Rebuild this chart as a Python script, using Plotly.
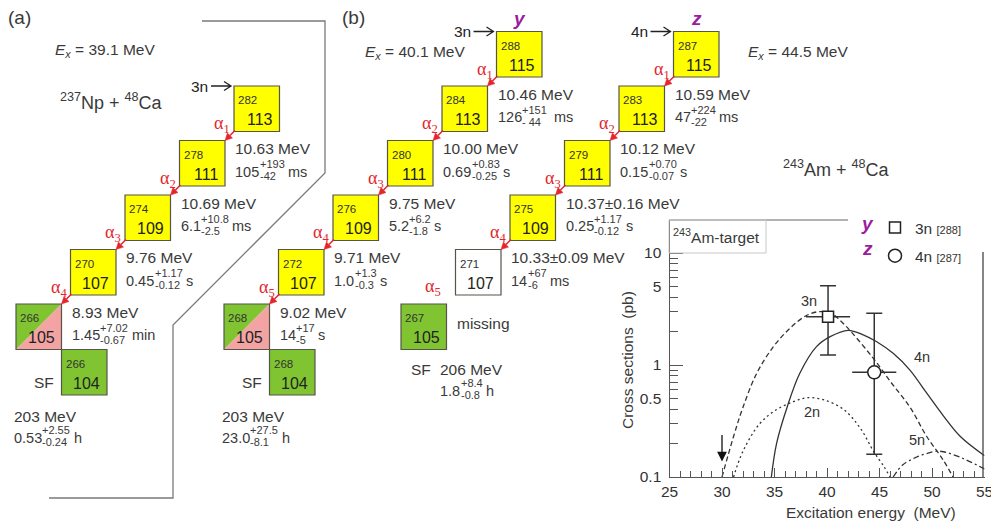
import math
import plotly.graph_objects as go

# ---------------- decay-chain data ----------------
# 237Np + 48Ca -> 282Nh (3n)
NP_A = [282, 278, 274, 270, 266]
NP_Z = [113, 111, 109, 107, 105]
NP_STYLE = ["alpha", "alpha", "alpha", "alpha", "split"]
NP_EALPHA = ["10.63", "10.69", "9.76", "8.93"]
NP_HALFLIFE = [("105", "+193", "-42", "ms"), ("6.1", "+10.8", "-2.5", "ms"),
               ("0.45", "+1.17", "-0.12", "s"), ("1.45", "+7.02", "-0.67", "min")]
NP_SF = ("266", 104, "203", ("0.53", "+2.55", "-0.24", "h"))

# 243Am + 48Ca -> 288Mc (3n), chain "y"
Y_A = [288, 284, 280, 276, 272, 268]
Y_Z = [115, 113, 111, 109, 107, 105]
Y_STYLE = ["alpha", "alpha", "alpha", "alpha", "alpha", "split"]
Y_EALPHA = ["10.46", "10.00", "9.75", "9.71", "9.02"]
Y_HALFLIFE = [("126", "+151", "- 44", " ms"), ("0.69", "+0.83", "-0.25", "s"),
              ("5.2", "+6.2", "-1.8", "s"), ("1.0", "+1.3", "-0.3", "s"),
              ("14", "+17", "-5", "s")]
Y_SF = ("268", 104, "203", ("23.0", "+27.5", "-8.1", "h"))

# 243Am + 48Ca -> 287Mc (4n), chain "z"
Z_A = [287, 283, 279, 275, 271, 267]
Z_Z = [115, 113, 111, 109, 107, 105]
Z_STYLE = ["alpha", "alpha", "alpha", "alpha", "unseen", "sf"]
Z_EALPHA = ["10.59", "10.12", "10.37±0.16", "10.33±0.09"]
Z_HALFLIFE = [("47", "+224", "-22", "ms"), ("0.15", "+0.70", "-0.07", "s"),
              ("0.25", "+1.17", "-0.12", "s"), ("14", "+67", "-6", "ms")]
Z_SF = ("206", ("1.8", "+8.4", "-0.8", "h"))

EX_NP, EX_Y, EX_Z = "39.1", "40.1", "44.5"

# ---------------- excitation functions (243Am + 48Ca) ----------------
E_2N = [31.1, 32.0, 33.6, 35.2, 36.8, 38.1, 39.65, 41.6, 43.2, 44.5, 45.4, 46.0]
S_2N = [0.1, 0.17, 0.30, 0.40, 0.47, 0.51, 0.49, 0.40, 0.27, 0.165, 0.125, 0.1]
E_3N = [30.0, 31.1, 32.0, 33.3, 34.9, 36.5, 38.0, 39.3, 40.5, 41.5, 42.3, 44.4,
        46.1, 47.9, 49.5, 51.1, 52.0]
S_3N = [0.1, 0.23, 0.42, 0.84, 1.46, 2.14, 2.75, 3.0, 2.85, 2.37, 1.98, 1.15,
        0.70, 0.42, 0.23, 0.14, 0.10]
E_4N = [34.7, 35.2, 36.2, 37.4, 39.0, 40.3, 42.0, 43.5, 44.7, 46.3, 47.9, 49.5,
        51.1, 52.7, 55.0]
S_4N = [0.1, 0.20, 0.42, 0.84, 1.46, 1.79, 2.04, 1.85, 1.62, 1.27, 0.90, 0.56,
        0.35, 0.23, 0.155]
E_5N = [46.3, 47.2, 48.5, 50.1, 50.6, 51.1, 52.7, 55.0]
S_5N = [0.1, 0.128, 0.15, 0.168, 0.17, 0.168, 0.15, 0.118]

# measured cross sections
PT_E = [40.1, 44.5]
PT_DE = [2.1, 2.1]
PT_S = [2.7, 0.86]
PT_S_HI = [5.1, 2.9]
PT_S_LO = [1.23, 0.16]
PT_NAME = ["3n <span style='font-size:11px'>[288]</span>",
           "4n <span style='font-size:11px'>[287]</span>"]
PT_SYMBOL = ["square", "circle"]
PT_TAG = ["y", "z"]
BARRIER_E = 30.0

# axis ticks of the inset
X_TICKS = [25, 30, 35, 40, 45, 50, 55]
Y_LABELLED = [0.1, 0.5, 1, 5, 10]
Y_DECADES = [0.1, 1, 10]

# ---------------- styling ----------------
W, H = 991, 527
SANS = "Liberation Sans, Arial, Helvetica, sans-serif"
SERIF = "Liberation Serif, Times New Roman, serif"
INK = "#3a3a3a"
RED = "#e3262b"
PURPLE = "#9b1d9e"
YELLOW = "#ffff00"
GREEN = "#80c531"
PINK = "#f4a3a3"
EDGE = "#55554a"

S = 45.5        # box size (px)
STEP = 54.5     # diagonal step per alpha decay
ROW105 = 304    # top of the Z=105 row

ADV = {c: 0.556 for c in "0123456789"}
ADV.update({".": 0.278, "+": 0.584, "-": 0.333, " ": 0.278, "m": 0.833,
            "s": 0.5, "i": 0.222, "n": 0.556, "h": 0.556, "±": 0.549})


def text_width(s, size):
    return sum(ADV.get(c, 0.556) for c in s) * size


shapes, ann = [], []


def label(x, y, text, size=15.5, color=INK, xanchor="left", family=SANS,
          xref="x", yref="y", **kw):
    ann.append(dict(x=x, y=y, xref=xref, yref=yref, text=text, showarrow=False,
                    xanchor=xanchor, yanchor="middle", borderpad=0, borderwidth=0,
                    font=dict(size=size, color=color, family=family), **kw))


def halflife(x, y, parts, size=14.5):
    val, up, dn, unit = parts
    label(x, y, val, size)
    w = text_width(val, size)
    label(x + w + 0.5, y - 7.5, up, 11)
    label(x + w + 0.5, y + 4.5, dn, 11)
    w2 = max(text_width(up, 11), text_width(dn, 11))
    label(x + w + w2 + 4, y, unit, size)


def box_xy(x105, z):
    k = (z - 105) / 2
    return x105 + k * STEP, ROW105 - k * STEP


def draw_box(x, y, a, z, style):
    line = dict(color=EDGE, width=1.2)
    if style == "split":
        shapes.append(dict(type="path", xref="x", yref="y",
                           path=f"M{x},{y} L{x+S},{y} L{x},{y+S} Z",
                           fillcolor=GREEN, line=dict(width=0)))
        shapes.append(dict(type="path", xref="x", yref="y",
                           path=f"M{x+S},{y} L{x+S},{y+S} L{x},{y+S} Z",
                           fillcolor=PINK, line=dict(width=0)))
        shapes.append(dict(type="rect", xref="x", yref="y", x0=x, y0=y,
                           x1=x + S, y1=y + S, line=line))
    else:
        fill = {"alpha": YELLOW, "sf": GREEN, "unseen": "white"}[style]
        shapes.append(dict(type="rect", xref="x", yref="y", x0=x, y0=y,
                           x1=x + S, y1=y + S, fillcolor=fill, line=line))
    label(x + 4, y + 14, str(a), 11.5, "#333")
    label(x + S - 7, y + S - 12, str(z), 16, "#222", xanchor="right")


def red_arrow(x0, y0, x1, y1, head=7.0, half=3.6):
    """Thin red decay arrow with a filled head whose tip is at (x1, y1)."""
    L = math.hypot(x1 - x0, y1 - y0)
    ux, uy = (x1 - x0) / L, (y1 - y0) / L
    bx, by = x1 - ux * head, y1 - uy * head
    nx, ny = -uy, ux
    shapes.append(dict(type="line", xref="x", yref="y", x0=x0, y0=y0, x1=bx, y1=by,
                       line=dict(color=RED, width=1.5)))
    shapes.append(dict(type="path", xref="x", yref="y",
                       path=(f"M{x1},{y1} L{bx + nx * half},{by + ny * half} "
                             f"L{bx - nx * half},{by - ny * half} Z"),
                       fillcolor=RED, line=dict(color=RED, width=0.5)))


def alpha_step(i, px, py, dx, dy):
    cx, cy = px, py + S
    label(cx - 4, cy - 7, f"α<sub>{i}</sub>", 18, RED, xanchor="right", family=SERIF)
    red_arrow(cx + 1, cy - 1, dx + S, dy)


def entry_arrow(bx, by, text):
    tip = bx - 3
    shapes.append(dict(type="path", xref="x", yref="y",
                       path=(f"M{tip - 20},{by} L{tip},{by} "
                             f"M{tip - 7},{by - 4.5} L{tip},{by} L{tip - 7},{by + 4.5}"),
                       line=dict(color="#222", width=1.3)))
    label(bx - 26, by, text, 15.5, "#222", xanchor="right")


def chain(x105, A, Z, styles, ealpha, halflives, entry, tag=None):
    pos = [box_xy(x105, z) for z in Z]
    for (x, y), a, z, st in zip(pos, A, Z, styles):
        draw_box(x, y, a, z, st)
    entry_arrow(pos[0][0], pos[0][1], entry)
    if tag:
        label(pos[0][0] + S / 2, pos[0][1] - 13, f"<b><i>{tag}</i></b>", 19,
              PURPLE, xanchor="center")
    for i in range(len(ealpha)):
        (px, py), (dx, dy) = pos[i], pos[i + 1]
        alpha_step(i + 1, px, py, dx, dy)
        label(dx + S + 10, dy + 8, f"{ealpha[i]} MeV")
        halflife(dx + S + 10, dy + 31, halflives[i])
    return pos


def sf_daughter(x105, a, z, tke, hl):
    x, y = x105 + S, ROW105 + S
    draw_box(x, y, a, z, "sf")
    label(x - 8, y + 33, "SF", 15.5, xanchor="right")
    label(x - 48, y + 67, f"{tke} MeV")
    halflife(x - 48, y + 88, hl)


# ---- panel (a): 237Np + 48Ca, plus the lower part of the 288Mc chain ----
chain(16, NP_A, NP_Z, NP_STYLE, NP_EALPHA, NP_HALFLIFE, "3n")
sf_daughter(16, NP_SF[0], NP_SF[1], NP_SF[2], NP_SF[3])

# ---- panel (b): 243Am + 48Ca ----
chain(224, Y_A, Y_Z, Y_STYLE, Y_EALPHA, Y_HALFLIFE, "3n", "y")
sf_daughter(224, Y_SF[0], Y_SF[1], Y_SF[2], Y_SF[3])

chain(401, Z_A[:5], Z_Z[:5], Z_STYLE[:5], Z_EALPHA, Z_HALFLIFE, "4n", "z")
bx, by = box_xy(401, Z_Z[5])
draw_box(bx, by, Z_A[5], Z_Z[5], Z_STYLE[5])
label(bx + 32, by - 17, "α<sub>5</sub>", 18, RED, xanchor="center", family=SERIF)
label(bx + S + 10, by + 19, "missing")
label(bx + 10, by + S + 20, "SF")
label(bx + 39, by + S + 20, f"{Z_SF[0]} MeV")
halflife(bx + 39, by + S + 41, Z_SF[1])

# panel captions and reaction labels
label(8, 17, "(a)", 19)
label(342, 17, "(b)", 19)
EX_TXT = "<i>E</i><sub><i>x</i></sub> = {} MeV"
label(55, 50, EX_TXT.format(EX_NP))
label(365, 52, EX_TXT.format(EX_Y))
label(748, 52, EX_TXT.format(EX_Z))
label(60, 101, "<sup>237</sup>Np + <sup>48</sup>Ca", 18)
label(783, 168, "<sup>243</sup>Am + <sup>48</sup>Ca", 18)

# separator between panels
shapes.append(dict(type="path", xref="x", yref="y",
                   path="M202,21 L325,21 L325,173 L173,325 L173,498 L49,498",
                   line=dict(color="#7a7a7a", width=1.3)))

# inset frame pieces and target label
shapes.append(dict(type="line", xref="x", yref="y", x0=669, y0=220, x1=848, y1=220,
                   line=dict(color="#666", width=1.2)))
shapes.append(dict(type="line", xref="x", yref="y", x0=983, y0=252, x1=983, y1=477,
                   line=dict(color="#444", width=1.3)))
shapes.append(dict(type="rect", xref="x", yref="y", x0=669, y0=220, x1=766, y1=253,
                   line=dict(color="#c8c8c8", width=1)))
label(673, 236, "<sup>243</sup>Am-target", 15.5)

# ---------------- figure ----------------
fig = go.Figure()
fig.add_trace(go.Scatter(x=[], y=[], xaxis="x", yaxis="y", showlegend=False))

curves = [(E_2N, S_2N, "2px,3px"), (E_3N, S_3N, "5px,3px"),
          (E_4N, S_4N, "solid"), (E_5N, S_5N, "6px,3px,2px,3px")]
for ex, sx, dash in curves:
    fig.add_trace(go.Scatter(x=ex, y=sx, mode="lines", xaxis="x2", yaxis="y2",
                             showlegend=False, hoverinfo="skip",
                             line=dict(color="#333", width=1.3, dash=dash,
                                       shape="spline", smoothing=1.0)))

for i in range(len(PT_E)):
    mk = dict(symbol=PT_SYMBOL[i], size=11 if i == 0 else 13, color="white",
              line=dict(color="#222", width=1.5))
    fig.add_trace(go.Scatter(
        x=[PT_E[i]], y=[PT_S[i]], mode="markers", xaxis="x2", yaxis="y2",
        showlegend=False, marker=mk,
        error_x=dict(type="data", array=[PT_DE[i]], color="#333", thickness=1.5, width=0),
        error_y=dict(type="data", symmetric=False, array=[PT_S_HI[i] - PT_S[i]],
                     arrayminus=[PT_S[i] - PT_S_LO[i]], color="#333",
                     thickness=1.5, width=8)))
    fig.add_trace(go.Scatter(x=[None], y=[None], mode="markers", xaxis="x2",
                             yaxis="y2", name=PT_NAME[i], marker=mk,
                             legendgroup=PT_TAG[i]))

fig.add_trace(go.Scatter(x=[], y=[], xaxis="x2", yaxis="y3", showlegend=False))

# curve labels and barrier arrow
for txt, e, s in [("3n", 38.3, 3.75), ("4n", 49.05, 1.18), ("2n", 38.6, 0.38),
                  ("5n", 48.57, 0.215)]:
    label(e, math.log10(s), txt, 14.5, "#333", xanchor="center", xref="x2", yref="y2")
ann.append(dict(x=BARRIER_E, y=-0.862, xref="x2", yref="y2", ax=0, ay=-28,
                axref="pixel", ayref="pixel", text="", showarrow=True,
                arrowhead=2, arrowsize=1.5, arrowwidth=1.3, arrowcolor="#111",
                standoff=0))

# axis titles
label(871, 512, "Excitation energy\u00a0 (MeV)", 15.5, xanchor="center")
label(627, 360, "Cross sections\u00a0 (pb)", 15.5, xanchor="center", textangle=-90)

# legend tags
for i, tag in enumerate(PT_TAG):
    label(867, 223 + 25 * i, f"<b><i>{tag}</i></b>", 19, PURPLE, xanchor="center")

y_minor = [v / 10 for v in range(2, 10)] + list(range(2, 10))
y_minor = [v for v in y_minor if v not in Y_LABELLED]
axis_common = dict(showgrid=False, zeroline=False, linecolor="#555", linewidth=1.2,
                   tickcolor="#555", automargin=False, ticklabeloverflow="allow",
                   tickfont=dict(size=15.5, color="#333", family=SANS))
fig.update_layout(
    width=W, height=H, margin=dict(l=0, r=0, t=0, b=0, pad=0, autoexpand=False),
    paper_bgcolor="white", plot_bgcolor="rgba(0,0,0,0)",
    font=dict(family=SANS, color=INK),
    xaxis=dict(range=[0, W], domain=[0, 1], visible=False, fixedrange=True,
               anchor="y", automargin=False),
    yaxis=dict(range=[H, 0], domain=[0, 1], visible=False, fixedrange=True,
               anchor="x", automargin=False),
    xaxis2=dict(domain=[669.5 / W, 984.5 / W], range=[25, 55], anchor="y2",
                showline=True, ticks="inside", tickvals=X_TICKS,
                ticklen=9, minor=dict(dtick=1, ticklen=6, ticks="inside", tickcolor="#555"),
                **axis_common),
    yaxis2=dict(domain=[1 - 477 / H, 1 - 220 / H], type="log", range=[-1, 1.2946],
                anchor="x2", showline=True, ticks="inside", tickvals=Y_LABELLED,
                ticktext=[f"{v:g}" for v in Y_LABELLED], ticklen=8, ticklabelstandoff=4,
                minor=dict(tickvals=y_minor, ticklen=8, ticks="inside", tickcolor="#555"),
                **axis_common),
    yaxis3=dict(overlaying="y2", anchor="x2", type="log", range=[-1, 1.2946],
                ticks="inside", tickvals=Y_DECADES, ticklen=13, tickcolor="#555",
                showticklabels=False, showline=False, showgrid=False, zeroline=False,
                automargin=False),
    legend=dict(x=875 / W, y=1 - 211 / H, xanchor="left", yanchor="top",
                bgcolor="rgba(0,0,0,0)", font=dict(size=15.5, color="#333", family=SANS),
                traceorder="grouped", tracegroupgap=5),
    shapes=shapes, annotations=ann,
)

fig.write_html("out.html")
